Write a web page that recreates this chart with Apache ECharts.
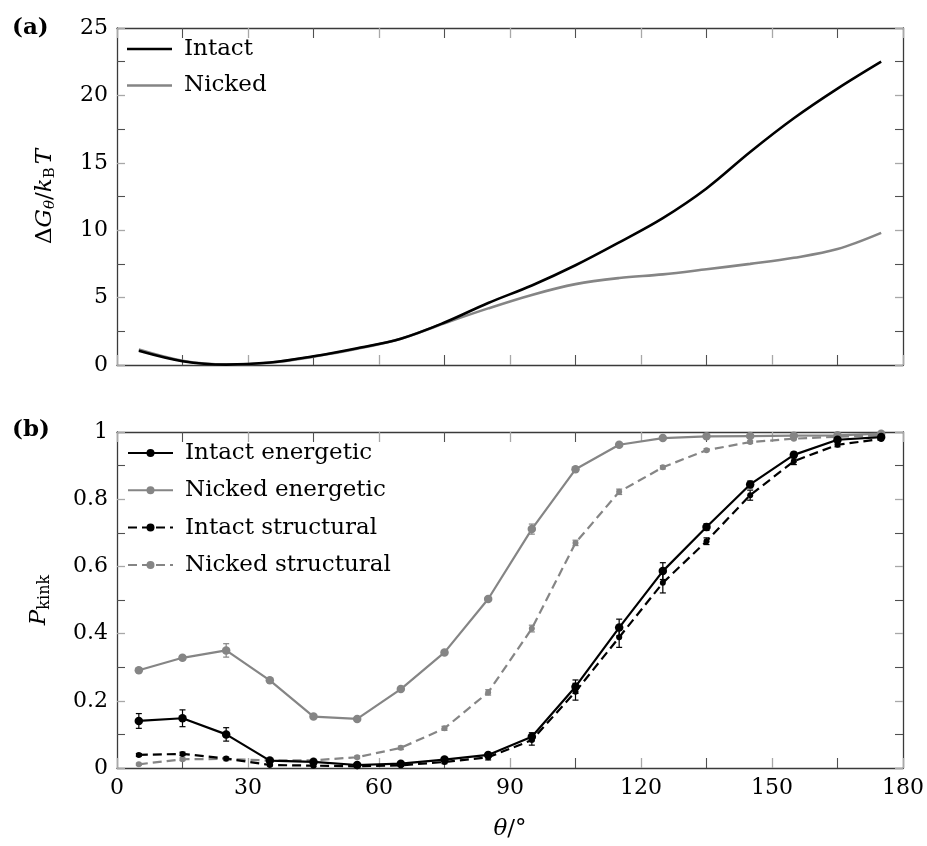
<!DOCTYPE html>
<html><head><meta charset="utf-8">
<script src="https://cdn.jsdelivr.net/npm/echarts@6/dist/echarts.min.js"></script>
<style>html,body{margin:0;padding:0;background:#fff}#c{width:927px;height:846px}</style>
</head><body><div id="c"></div>
<script>
// ---- data ----
const thetaA = [5,15,25,35,45,55,65,75,85,95,105,115,125,135,145,155,165,175];
const intactG = [1.05,0.28,0.03,0.18,0.65,1.25,1.95,3.15,4.6,5.9,7.4,9.1,10.9,13.1,15.8,18.3,20.5,22.5];
const nickedG = [1.15,0.32,0.04,0.17,0.62,1.2,1.95,3.1,4.2,5.2,6.0,6.45,6.72,7.1,7.5,7.95,8.6,9.8];

const thetaB = [5,15,25,35,45,55,65,75,85,95,105,115,125,135,145,155,165,175];
const intactEnergetic    = [0.140,0.148,0.100,0.022,0.018,0.009,0.013,0.025,0.039,0.093,0.242,0.418,0.586,0.717,0.844,0.932,0.977,0.985];
const intactEnergeticErr = [0.022,0.025,0.020,0.004,0.004,0.003,0.003,0.005,0.007,0.012,0.020,0.025,0.025,0.010,0.010,0.008,0.005,0.003];
const nickedEnergetic    = [0.291,0.328,0.350,0.261,0.153,0.146,0.235,0.344,0.503,0.711,0.889,0.962,0.982,0.987,0.988,0.989,0.990,0.995];
const nickedEnergeticErr = [0.006,0.006,0.020,0.006,0.005,0.005,0.005,0.005,0.005,0.015,0.006,0.004,0.003,0.002,0.002,0.002,0.002,0.002];
const intactStructural    = [0.039,0.042,0.028,0.009,0.007,0.005,0.008,0.018,0.032,0.083,0.227,0.389,0.551,0.675,0.812,0.913,0.962,0.979];
const intactStructuralErr = [0.004,0.005,0.004,0.003,0.003,0.002,0.003,0.005,0.008,0.015,0.025,0.030,0.030,0.010,0.015,0.010,0.006,0.003];
const nickedStructural    = [0.011,0.026,0.027,0.022,0.023,0.032,0.060,0.118,0.225,0.415,0.670,0.822,0.895,0.946,0.970,0.980,0.986,0.990];
const nickedStructuralErr = [0.003,0.004,0.005,0.004,0.004,0.004,0.005,0.006,0.008,0.010,0.008,0.008,0.005,0.004,0.004,0.003,0.003,0.003];

const xTicks  = [0,30,60,90,120,150,180];
const yTicksA = [0,5,10,15,20,25];
const yTicksB = [0,0.2,0.4,0.6,0.8,1];

// ---- styling ----
const FONT = 'DejaVu Serif';
const BLACK = '#000000', GRAY = '#858585';
const FRAME = '#3a3a3a', MAJ = '#a8a8a8', MIN = '#505050';
const TICKFS = 22, NAMEFS = 23;

function axisCommon(ticks, showLabel, tickLen) {
  return {
    type: 'value', min: ticks[0], max: ticks[ticks.length-1], interval: ticks[1]-ticks[0],
    axisLine: {show: true, onZero: false, lineStyle: {color: FRAME, width: 1.3}},
    axisTick: {show: true, inside: true, length: tickLen, lineStyle: {color: MAJ, width: 1.3}},
    minorTick: {show: true, splitNumber: 2, length: tickLen, lineStyle: {color: MIN, width: 1.1}},
    splitLine: {show: false},
    axisLabel: {show: showLabel, color: '#000', fontFamily: FONT, fontSize: TICKFS, margin: 9},
  };
}
const xAxes = [
  Object.assign(axisCommon(xTicks, false, 10), {gridIndex: 0, position: 'bottom'}),
  Object.assign(axisCommon(xTicks, false, 10), {gridIndex: 0, position: 'top'}),
  Object.assign(axisCommon(xTicks, true, 10), {gridIndex: 1, position: 'bottom',
    name: '{i|θ}/°', nameLocation: 'middle', nameGap: 50,
    nameTextStyle: {fontFamily: FONT, fontSize: NAMEFS, color: '#000', rich: {i: {fontFamily: FONT, fontSize: NAMEFS, fontStyle: 'italic'}}}}),
  Object.assign(axisCommon(xTicks, false, 10), {gridIndex: 1, position: 'top'}),
];
const yAxes = [
  Object.assign(axisCommon(yTicksA, true, 8), {gridIndex: 0, position: 'left',
    name: '{d|Δ}{i|G}{s|θ}{d|/}{i|k}{sb|B}{t|T}', nameLocation: 'middle', nameRotate: 90, nameGap: 59,
    nameTextStyle: {fontFamily: FONT, fontSize: NAMEFS, color: '#000', rich: {
      d: {fontFamily: FONT, fontSize: NAMEFS},
      i: {fontFamily: FONT, fontSize: NAMEFS, fontStyle: 'italic'},
      t: {fontFamily: FONT, fontSize: NAMEFS, fontStyle: 'italic', padding: [0,0,0,3]},
      s: {fontFamily: FONT, fontSize: 15, fontStyle: 'italic', padding: [11,0,0,0], verticalAlign: 'bottom'},
      sb: {fontFamily: FONT, fontSize: 15, padding: [11,0,0,0], verticalAlign: 'bottom'}
    }}}),
  Object.assign(axisCommon(yTicksA, false, 8), {gridIndex: 0, position: 'right'}),
  Object.assign(axisCommon(yTicksB, true, 8), {gridIndex: 1, position: 'left',
    name: '{i|P}{s|kink}', nameLocation: 'middle', nameRotate: 90, nameGap: 64,
    nameTextStyle: {fontFamily: FONT, fontSize: NAMEFS, color: '#000', rich: {
      i: {fontFamily: FONT, fontSize: NAMEFS, fontStyle: 'italic'},
      s: {fontFamily: FONT, fontSize: 16, padding: [11,0,0,0], verticalAlign: 'bottom'}
    }}}),
  Object.assign(axisCommon(yTicksB, false, 8), {gridIndex: 1, position: 'right'}),
];

function zip(xs, ys) { return xs.map((x, i) => [x, ys[i]]); }

function lineB(name, vals, color, dashed, size) {
  return {
    type: 'line', name: name, xAxisIndex: 2, yAxisIndex: 2, data: zip(thetaB, vals),
    symbol: 'circle', symbolSize: size, showSymbol: true, z: 3,
    itemStyle: {color: color},
    lineStyle: {color: color, width: 2.2, type: dashed ? [9, 5] : 'solid'},
    emphasis: {disabled: true}
  };
}
function errB(name, vals, errs, color) {
  return {
    type: 'custom', name: name, xAxisIndex: 2, yAxisIndex: 2, z: 2, silent: true, clip: true,
    data: thetaB.map((t, i) => [t, vals[i], errs[i]]),
    renderItem: function (params, api) {
      const x = api.value(0), y = api.value(1), e = api.value(2);
      const lo = api.coord([x, y - e]), hi = api.coord([x, y + e]);
      const hw = 3, st = {stroke: color, lineWidth: 1.2};
      return {type: 'group', children: [
        {type: 'line', shape: {x1: lo[0], y1: lo[1], x2: hi[0], y2: hi[1]}, style: st},
        {type: 'line', shape: {x1: lo[0]-hw, y1: lo[1], x2: lo[0]+hw, y2: lo[1]}, style: st},
        {type: 'line', shape: {x1: hi[0]-hw, y1: hi[1], x2: hi[0]+hw, y2: hi[1]}, style: st}
      ]};
    }
  };
}

const legendText = {fontFamily: FONT, fontSize: 23, color: '#000', lineHeight: 26, padding: [0, 0, 0, 7]};

const option = {
  animation: false,
  backgroundColor: '#fff',
  grid: [
    {left: 117, top: 28, width: 786, height: 337},
    {left: 117, top: 432, width: 786, height: 336}
  ],
  xAxis: xAxes,
  yAxis: yAxes,
  legend: [
    {data: [{name: 'Intact', icon: 'rect'}, {name: 'Nicked', icon: 'rect'}], orient: 'vertical', left: 127, top: 36, padding: 0,
     itemWidth: 45, itemHeight: 2.6, itemGap: 10.5, textStyle: legendText, selectedMode: false},
    {data: ['Intact energetic', 'Nicked energetic', 'Intact structural', 'Nicked structural'],
     orient: 'vertical', left: 127, top: 440, padding: 0, itemWidth: 45, itemHeight: 10,
     itemGap: 11.3, textStyle: legendText, selectedMode: false}
  ],
  series: [
    {type: 'line', name: 'Intact', xAxisIndex: 0, yAxisIndex: 0, data: zip(thetaA, intactG),
     smooth: 0.35, symbol: 'none', showSymbol: false, lineStyle: {color: BLACK, width: 2.6}, itemStyle: {color: BLACK}, z: 4},
    {type: 'line', name: 'Nicked', xAxisIndex: 0, yAxisIndex: 0, data: zip(thetaA, nickedG),
     smooth: 0.35, symbol: 'none', showSymbol: false, lineStyle: {color: GRAY, width: 2.6}, itemStyle: {color: GRAY}, z: 3},
    errB('ie_err', intactEnergetic, intactEnergeticErr, BLACK),
    errB('ne_err', nickedEnergetic, nickedEnergeticErr, GRAY),
    errB('is_err', intactStructural, intactStructuralErr, BLACK),
    errB('ns_err', nickedStructural, nickedStructuralErr, GRAY),
    lineB('Nicked structural', nickedStructural, GRAY, true, 6),
    lineB('Intact structural', intactStructural, BLACK, true, 6),
    lineB('Nicked energetic', nickedEnergetic, GRAY, false, 8.5),
    lineB('Intact energetic', intactEnergetic, BLACK, false, 8.5)
  ],
  graphic: [
    {type: 'text', left: 12, top: 17, style: {text: '(a)', font: 'bold 23px "DejaVu Serif"', fill: '#000'}},
    {type: 'text', left: 12, top: 419, style: {text: '(b)', font: 'bold 23px "DejaVu Serif"', fill: '#000'}}
  ]
};
const chart = echarts.init(document.getElementById('c'), null, {renderer: 'canvas'});
chart.setOption(option);
</script></body></html>
